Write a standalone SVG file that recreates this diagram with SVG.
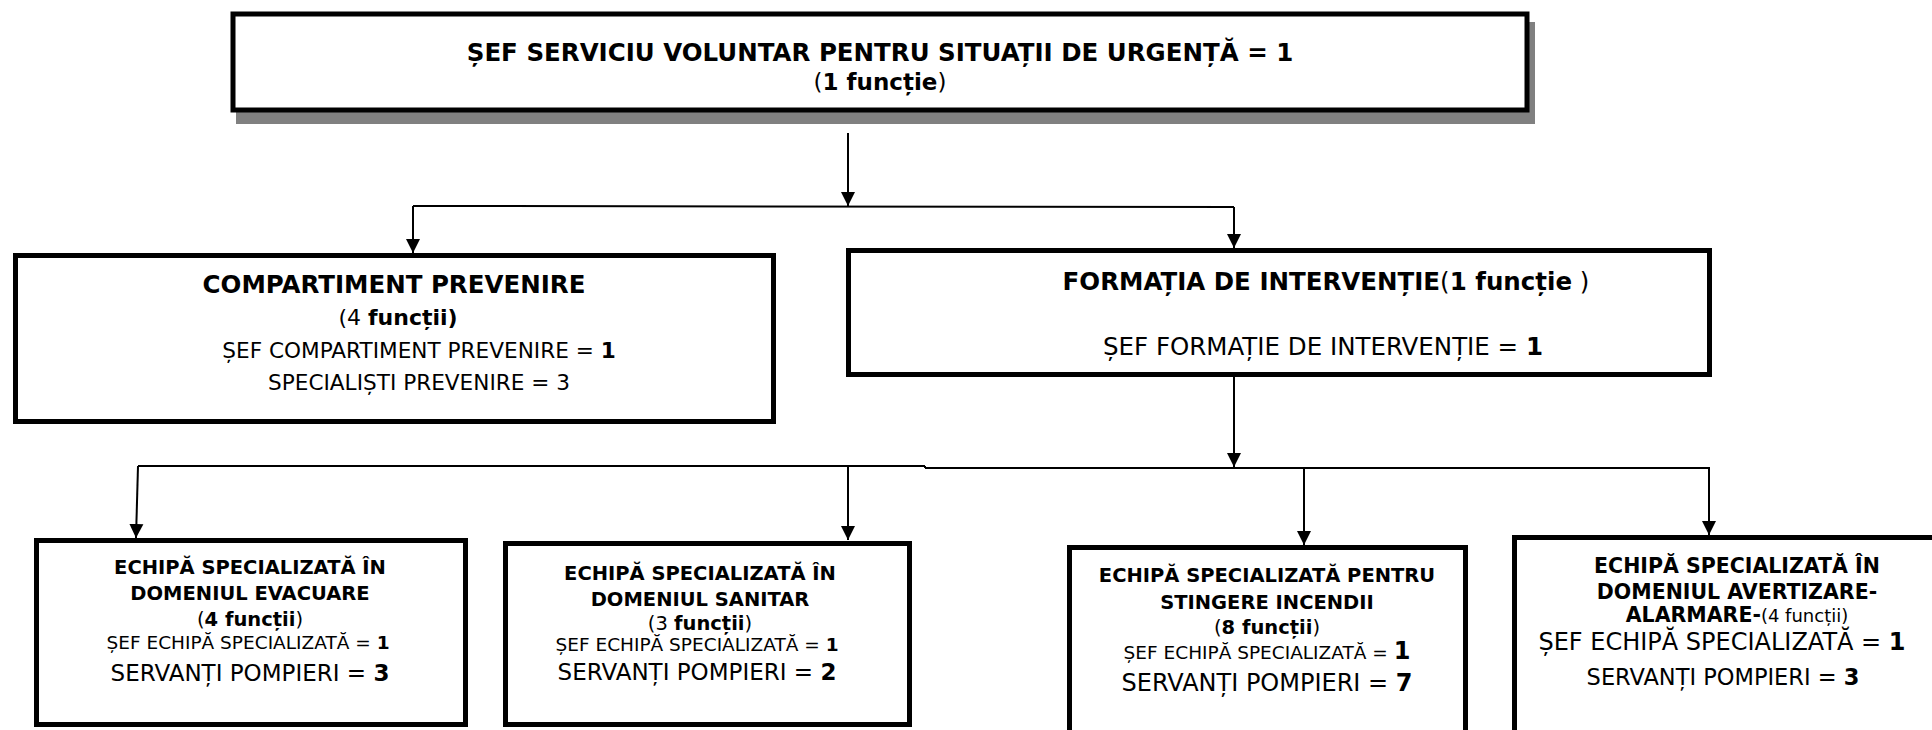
<svg xmlns="http://www.w3.org/2000/svg" width="1932" height="730" viewBox="0 0 1932 730">
<style>
text{font-family:"DejaVu Sans",sans-serif;fill:#000;text-anchor:middle}
.b{font-weight:bold}
.box{fill:#fff;stroke:#000;stroke-width:5}
.ln{fill:none;stroke:#000;stroke-width:2}
.ar{fill:none;stroke:#000;stroke-width:2;marker-end:url(#ah)}
</style>
<defs>
<marker id="ah" markerUnits="userSpaceOnUse" markerWidth="16" markerHeight="16" refX="14" refY="7" orient="auto" viewBox="0 0 16 14">
<path d="M0,0 L14,7 L0,14 Z" fill="#000"/>
</marker>
</defs>

<g id="connectors">
<line class="ar" x1="848" y1="133" x2="848" y2="206"/>
<line class="ln" x1="413" y1="206" x2="1234" y2="207"/>
<line class="ar" x1="413" y1="206" x2="413" y2="253"/>
<line class="ar" x1="1234" y1="207" x2="1234" y2="248"/>
<line class="ar" x1="1234" y1="377" x2="1234" y2="467"/>
<line class="ln" x1="138" y1="466" x2="925" y2="466"/>
<line class="ln" x1="925" y1="466" x2="925" y2="468"/>
<line class="ln" x1="925" y1="468" x2="1710" y2="468"/>
<line class="ar" x1="138" y1="466" x2="136" y2="538"/>
<line class="ar" x1="848" y1="466" x2="848" y2="540"/>
<line class="ar" x1="1304" y1="468" x2="1304" y2="545"/>
<line class="ar" x1="1709" y1="468" x2="1709" y2="535"/>
</g>

<g id="node-sef-serviciu">
<rect x="236" y="22" width="1299" height="102" fill="#808080"/>
<rect class="box" x="233" y="14" width="1294" height="96"/>
<text class="b" x="880" y="61" font-size="24.5">ȘEF SERVICIU VOLUNTAR PENTRU SITUAȚII DE URGENȚĂ = 1</text>
<text x="880" y="90" font-size="23">(<tspan class="b">1 funcție</tspan>)</text>
</g>

<g id="node-compartiment">
<rect class="box" x="15.5" y="255.5" width="758" height="166"/>
<text class="b" x="394" y="293" font-size="24.5">COMPARTIMENT PREVENIRE</text>
<text x="398" y="325" font-size="22">(4 <tspan class="b">funcții)</tspan></text>
<text x="419" y="358" font-size="21.6">ȘEF COMPARTIMENT PREVENIRE = <tspan class="b">1</tspan></text>
<text x="419" y="390" font-size="21.6">SPECIALIȘTI PREVENIRE = 3</text>
</g>

<g id="node-formatia">
<rect class="box" x="848.5" y="250.5" width="861" height="124"/>
<text x="1326" y="290" font-size="24.5"><tspan class="b">FORMAȚIA DE INTERVENȚIE</tspan>(<tspan class="b">1 funcție</tspan> )</text>
<text x="1323" y="355" font-size="24.5">ȘEF FORMAȚIE DE INTERVENȚIE = <tspan class="b">1</tspan></text>
</g>

<g id="node-evacuare">
<rect class="box" x="36.5" y="540.5" width="429" height="184"/>
<text class="b" x="250" y="574" font-size="19.5">ECHIPĂ SPECIALIZATĂ ÎN</text>
<text class="b" x="250" y="600" font-size="19.5">DOMENIUL EVACUARE</text>
<text x="250" y="626" font-size="19.5">(<tspan class="b">4 funcții</tspan>)</text>
<text x="248" y="649" font-size="18.5">ȘEF ECHIPĂ SPECIALIZATĂ = <tspan class="b">1</tspan></text>
<text x="250" y="681" font-size="23">SERVANȚI POMPIERI = <tspan class="b">3</tspan></text>
</g>

<g id="node-sanitar">
<rect class="box" x="505.5" y="543.5" width="404" height="181"/>
<text class="b" x="700" y="580" font-size="19.5">ECHIPĂ SPECIALIZATĂ ÎN</text>
<text class="b" x="700" y="606" font-size="19.5">DOMENIUL SANITAR</text>
<text x="700" y="630" font-size="19.5">(3 <tspan class="b">funcții</tspan>)</text>
<text x="697" y="651" font-size="18.5">ȘEF ECHIPĂ SPECIALIZATĂ = <tspan class="b">1</tspan></text>
<text x="697" y="680" font-size="23">SERVANȚI POMPIERI = <tspan class="b">2</tspan></text>
</g>

<g id="node-stingere">
<rect class="box" x="1069.5" y="547.5" width="396" height="200"/>
<text class="b" x="1267" y="582" font-size="19.5">ECHIPĂ SPECIALIZATĂ PENTRU</text>
<text class="b" x="1267" y="609" font-size="19.5">STINGERE INCENDII</text>
<text x="1267" y="634" font-size="19.5">(<tspan class="b">8 funcții</tspan>)</text>
<text x="1267" y="659" font-size="18.5">ȘEF ECHIPĂ SPECIALIZATĂ = <tspan class="b" font-size="24">1</tspan></text>
<text x="1267" y="691" font-size="24">SERVANȚI POMPIERI = <tspan class="b">7</tspan></text>
</g>

<g id="node-avertizare">
<rect class="box" x="1514.5" y="537.5" width="430" height="210"/>
<text class="b" x="1737" y="573" font-size="20.5">ECHIPĂ SPECIALIZATĂ ÎN</text>
<text class="b" x="1737" y="599" font-size="20.5">DOMENIUL AVERTIZARE-</text>
<text x="1737" y="622" font-size="18"><tspan class="b" font-size="20.5">ALARMARE-</tspan>(4 funcții)</text>
<text x="1722" y="650" font-size="24">ȘEF ECHIPĂ SPECIALIZATĂ = <tspan class="b">1</tspan></text>
<text x="1723" y="685" font-size="22.5">SERVANȚI POMPIERI = <tspan class="b">3</tspan></text>
</g>
</svg>
